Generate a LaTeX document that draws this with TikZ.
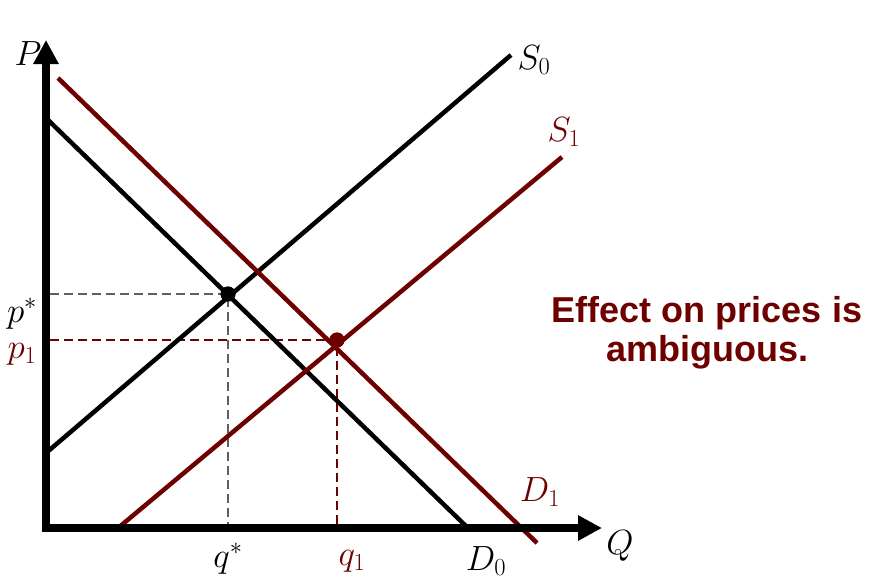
\RequirePackage{fix-cm}
\documentclass[tikz,border=0pt]{standalone}
\usepackage{fontspec}
\setsansfont{Liberation Sans}
\usetikzlibrary{arrows.meta}
\definecolor{dred}{RGB}{110,0,0}
\definecolor{dgray}{RGB}{95,95,95}
\begin{document}
\begin{tikzpicture}[x=1pt,y=-1pt,
  axis/.style={line width=7.5pt,-{Triangle[length=24pt,width=24pt]}},
  curve/.style={line width=4.5pt},
  guide/.style={line width=2.6pt,dash pattern=on 9pt off 5pt},
  lbl/.style={font=\fontsize{35}{38}\selectfont},
  dotn/.style={circle,fill,inner sep=0pt,minimum size=15pt}]
\useasboundingbox (0,0) rectangle (869,582);
% coordinates
\coordinate (O) at (46,528);
\coordinate (Ptop) at (46,40);
\coordinate (Qend) at (602,528);
\coordinate (S0a) at (46,453);
\coordinate (S0b) at (511,55);
\coordinate (D0a) at (46,118);
\coordinate (D0b) at (470,530);
\coordinate (S1a) at (118,528);
\coordinate (S1b) at (562,157);
\coordinate (D1a) at (58,78);
\coordinate (D1b) at (537,543);
\coordinate (yps) at (50,294);
\coordinate (yp1) at (50,340);
\coordinate (xqs) at (228,524);
\coordinate (xq1) at (337,524);
% guides
\node[dotn,black] (E0) at (228,294) {};
\node[dotn,dred] (E1) at (337,340) {};
\draw[guide,dgray] (yps) -- (E0.center) -- (xqs);
\draw[guide,dred] (yp1) -- (E1.center) -- (xq1);
% curves
\draw[curve,black] (S0a) -- (S0b);
\draw[curve,black] (D0a) -- (D0b);
\draw[curve,dred] (S1a) -- (S1b);
\draw[curve,dred] (D1a) -- (D1b);
\node[dotn,black] at (E0) {};
\node[dotn,dred] at (E1) {};
% axes
\draw[axis] (O) -- (Ptop);
\draw[axis] ([xshift=-3.75pt]O) -- (Qend);
% labels
\node[lbl] (Pl) at (28,54) {$P$};
\node[lbl] (Ql) at (620,546) {$Q$};
\node[lbl] (S0l) at (534,60) {$S_0$};
\node[lbl,text=dred] (S1l) at (564,132) {$S_1$};
\node[lbl,text=dred] (D1l) at (540,492) {$D_1$};
\node[lbl] (D0l) at (486,561) {$D_0$};
\node[lbl] (psl) at (22,314) {$p^*$};
\node[lbl,text=dred] (p1l) at (22,354) {$p_1$};
\node[lbl] (qsl) at (228,559) {$q^*$};
\node[lbl,text=dred] (q1l) at (352,561) {$q_1$};
\node[font=\sffamily\bfseries\fontsize{36}{39}\selectfont,text=dred,align=center] (eff) at (707,333) {Effect on prices is\\ambiguous.};
\end{tikzpicture}
\end{document}
